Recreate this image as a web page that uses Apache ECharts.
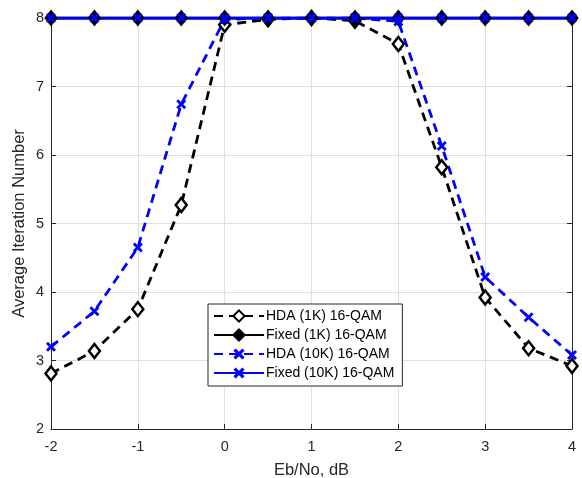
<!DOCTYPE html>
<html><head><meta charset="utf-8">
<script src="https://cdn.jsdelivr.net/npm/echarts@6/dist/echarts.min.js"></script>
<style>html,body{margin:0;padding:0;background:#fff}#c{width:582px;height:478px}</style>
</head><body><div id="c"></div>
<script>
const xValues = [-2, -1.5, -1, -0.5, 0, 0.5, 1, 1.5, 2, 2.5, 3, 3.5, 4];
const hda1K = [2.81, 3.14, 3.75, 5.27, 7.9, 7.98, 8, 7.96, 7.62, 5.82, 3.92, 3.18, 2.92];
const fixed1K = [8, 8, 8, 8, 8, 8, 8, 8, 8, 8, 8, 8, 8];
const hda10K = [3.2, 3.72, 4.65, 6.74, 7.98, 8, 8, 8, 7.95, 6.13, 4.22, 3.63, 3.08];
const fixed10K = [8, 8, 8, 8, 8, 8, 8, 8, 8, 8, 8, 8, 8];
const seriesNames = ['HDA (1K) 16-QAM', 'Fixed (1K) 16-QAM', 'HDA (10K) 16-QAM', 'Fixed (10K) 16-QAM'];
const xTitle = 'Eb/No, dB';
const yTitle = 'Average Iteration Number';

const pair = arr => xValues.map((x, i) => [x, arr[i]]);
const xShape = 'path://M0,2 L2,0 L5,3 L8,0 L10,2 L7,5 L10,8 L8,10 L5,7 L2,10 L0,8 L3,5 Z';
const font = 'Liberation Sans, Arial, sans-serif';
const axisCol = '#262626';

const chart = echarts.init(document.getElementById('c'), null, {renderer: 'canvas'});
chart.setOption({
  animation: false,
  backgroundColor: '#fff',
  textStyle: {fontFamily: font},
  grid: {left: 51, right: 10, top: 18, bottom: 49, containLabel: false, outerBoundsMode: 'none'},
  legend: {
    orient: 'vertical', left: 208, top: 304,
    backgroundColor: '#fff', borderColor: axisCol, borderWidth: 1,
    padding: [5, 8, 6, 5], itemGap: 5, itemWidth: 50, itemHeight: 14,
    textStyle: {fontSize: 14, color: '#000', fontFamily: font, padding: [0, 0, 0, -3]},
    data: seriesNames
  },
  xAxis: [{
    type: 'value', min: -2, max: 4, interval: 1,
    name: xTitle, nameLocation: 'middle', nameGap: 33, nameMoveOverlap: false,
    nameTextStyle: {fontSize: 16.5, color: axisCol, fontFamily: font},
    axisLine: {show: true, onZero: false, lineStyle: {color: axisCol, width: 1}},
    axisTick: {show: true, inside: true, length: 5, lineStyle: {color: axisCol}},
    axisLabel: {fontSize: 14.5, color: axisCol, margin: 10, fontFamily: font},
    splitLine: {show: true, lineStyle: {color: '#dfdfdf', width: 1}}
  }, {
    type: 'value', position: 'top', min: -2, max: 4, interval: 1,
    axisLine: {show: true, onZero: false, lineStyle: {color: axisCol, width: 1}},
    axisTick: {show: true, inside: true, length: 5, lineStyle: {color: axisCol}},
    axisLabel: {show: false}, splitLine: {show: false}
  }],
  yAxis: [{
    type: 'value', min: 2, max: 8, interval: 1,
    name: yTitle, nameLocation: 'middle', nameGap: 23, nameRotate: 90, nameMoveOverlap: false,
    nameTextStyle: {fontSize: 16.5, color: axisCol, fontFamily: font},
    axisLine: {show: true, onZero: false, lineStyle: {color: axisCol, width: 1}},
    axisTick: {show: true, inside: true, length: 5, lineStyle: {color: axisCol}},
    axisLabel: {fontSize: 14.5, color: axisCol, margin: 7, fontFamily: font},
    splitLine: {show: true, lineStyle: {color: '#dfdfdf', width: 1}}
  }, {
    type: 'value', position: 'right', min: 2, max: 8, interval: 1,
    axisLine: {show: true, onZero: false, lineStyle: {color: axisCol, width: 1}},
    axisTick: {show: true, inside: true, length: 5, lineStyle: {color: axisCol}},
    axisLabel: {show: false}, splitLine: {show: false}
  }],
  series: [{
    name: seriesNames[0], type: 'line', data: pair(hda1K),
    symbol: 'diamond', symbolSize: [11, 14], showAllSymbol: true,
    lineStyle: {color: '#000', width: 2.8, type: [9, 6]},
    itemStyle: {color: '#fff', borderColor: '#000', borderWidth: 2.5}
  }, {
    name: seriesNames[1], type: 'line', data: pair(fixed1K),
    symbol: 'diamond', symbolSize: [11, 14], showAllSymbol: true,
    lineStyle: {color: '#000', width: 2.8, type: 'solid'},
    itemStyle: {color: '#000', borderColor: '#000', borderWidth: 2}
  }, {
    name: seriesNames[2], type: 'line', data: pair(hda10K),
    symbol: xShape, symbolSize: 10, showAllSymbol: true,
    lineStyle: {color: '#0000ff', width: 2.8, type: [9, 6]},
    itemStyle: {color: '#0000ff', borderWidth: 0}
  }, {
    name: seriesNames[3], type: 'line', data: pair(fixed10K),
    symbol: xShape, symbolSize: 10, showAllSymbol: true,
    lineStyle: {color: '#0000ff', width: 3, type: 'solid'},
    itemStyle: {color: '#0000ff', borderWidth: 0}
  }]
});
</script></body></html>
